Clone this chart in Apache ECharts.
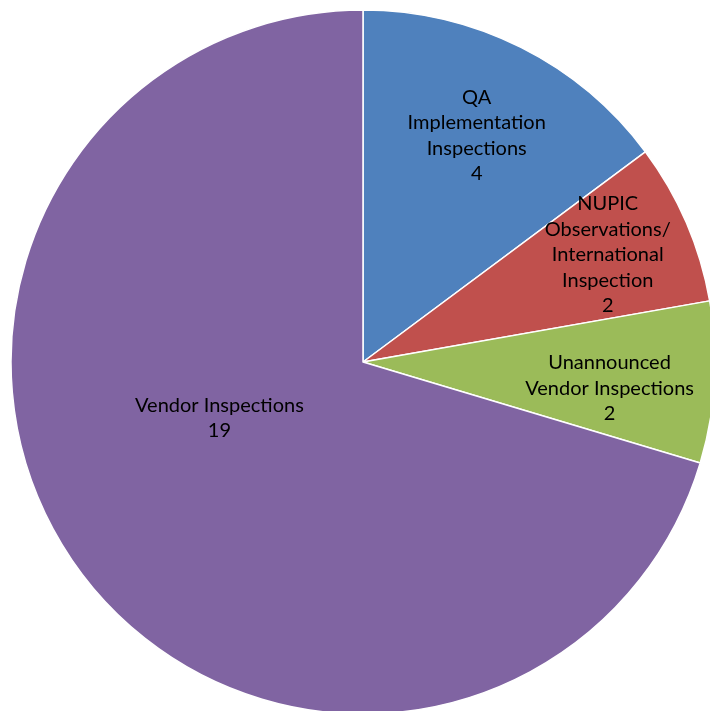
<!DOCTYPE html>
<html>
<head>
<meta charset="utf-8">
<script src="https://cdn.jsdelivr.net/npm/echarts@6/dist/echarts.min.js"></script>
<style>html,body{margin:0;padding:0;background:#fff;}#c{width:710px;height:711px;}</style>
</head>
<body>
<div id="c"></div>
<script>
var categories = ["QA\nImplementation\nInspections", "NUPIC\nObservations/\nInternational\nInspection", "Unannounced\nVendor Inspections", "Vendor Inspections"];
var values = [4, 2, 2, 19];
var colors = ["#4F81BD", "#C0504D", "#9BBB59", "#8064A2"];

var chart = echarts.init(document.getElementById('c'), null, {renderer: 'canvas'});
var data = categories.map(function (n, i) {
  return {name: n, value: values[i], itemStyle: {color: colors[i]}};
});
var labelData = categories.map(function (n, i) {
  return {name: n, value: values[i]};
});
var labelShift = [[-3, 6], [6, -4], [-13, 11], [65, -99]];
chart.setOption({
  animation: false,
  series: [
    {
      type: 'pie',
      center: [363, 362],
      radius: [0, 352],
      startAngle: 90,
      clockwise: true,
      data: data,
      label: {show: false},
      labelLine: {show: false},
      itemStyle: {borderColor: '#ffffff', borderWidth: 1.5},
      emphasis: {disabled: true},
      silent: true
    },
    {
      type: 'pie',
      center: [363, 362],
      radius: [162, 352],
      startAngle: 90,
      clockwise: true,
      data: labelData,
      itemStyle: {color: 'rgba(0,0,0,0)', borderWidth: 0},
      emphasis: {disabled: true},
      silent: true,
      labelLine: {show: false},
      label: {
        show: true,
        position: 'inside',
        formatter: '{b}\n{c}',
        color: '#000000',
        fontFamily: 'Lato',
        fontSize: 20,
        lineHeight: 25.5,
        align: 'center'
      },
      labelLayout: function (p) {
        var s = labelShift[p.dataIndex];
        return {dx: s[0], dy: s[1]};
      }
    }
  ]
});
</script>
</body>
</html>
